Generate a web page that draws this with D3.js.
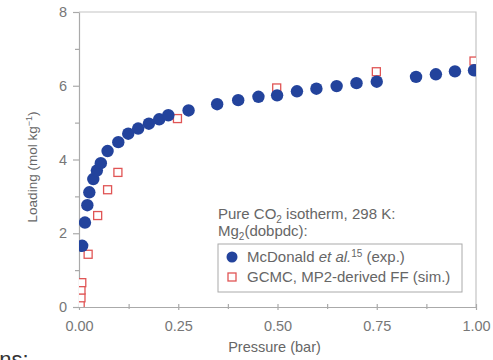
<!DOCTYPE html>
<html>
<head>
<meta charset="utf-8">
<script src="https://cdn.jsdelivr.net/npm/d3@7"></script>
<style>
  body { margin: 0; background: #fff; }
  text { font-family: "Liberation Sans", Arial, sans-serif; fill: #666; }
</style>
</head>
<body>
<svg width="493" height="360"></svg>
<script>
// experimental isotherm (McDonald et al.)
var expPressure = [0.008, 0.015, 0.021, 0.026, 0.036, 0.045, 0.055, 0.072, 0.099, 0.124,
                   0.149, 0.176, 0.202, 0.225, 0.276, 0.348, 0.401, 0.452, 0.499, 0.549,
                   0.598, 0.649, 0.699, 0.750, 0.849, 0.899, 0.947, 0.995];
var expLoading  = [1.66, 2.29, 2.76, 3.11, 3.47, 3.70, 3.90, 4.23, 4.47, 4.70,
                   4.84, 4.97, 5.09, 5.20, 5.33, 5.50, 5.61, 5.70, 5.74, 5.85,
                   5.92, 5.99, 6.07, 6.11, 6.24, 6.31, 6.39, 6.42];
// GCMC simulation
var simPressure = [0.003, 0.005, 0.005, 0.007, 0.023, 0.047, 0.072, 0.098, 0.248, 0.498, 0.749, 0.995];
var simLoading  = [0.08, 0.25, 0.46, 0.66, 1.43, 2.48, 3.18, 3.65, 5.11, 5.94, 6.38, 6.67];

var xTicks = [0, 0.25, 0.5, 0.75, 1];
var xMinor = [0.125, 0.375, 0.625, 0.875];
var yTicks = [0, 2, 4, 6, 8];
var yMinor = [1, 3, 5, 7];

var svg = d3.select("svg"),
    mLeft = 79, mRight = 476, mTop = 12, mBottom = 307;

var x = d3.scaleLinear().domain([0, 1]).range([mLeft, mRight]);
var y = d3.scaleLinear().domain([0, 8]).range([mBottom, mTop]);

var exp = expPressure.map(function(p, i) { return {x: p, y: expLoading[i]}; });
var sim = simPressure.map(function(p, i) { return {x: p, y: simLoading[i]}; });

svg.append("clipPath").attr("id", "plot")
  .append("rect")
    .attr("x", mLeft).attr("y", mTop)
    .attr("width", mRight - mLeft).attr("height", mBottom - mTop);

// frame top / right
svg.append("path")
    .attr("d", "M" + mLeft + "," + mTop + "H" + mRight + "V" + mBottom)
    .attr("fill", "none")
    .attr("stroke", "#c4c4c4")
    .attr("stroke-width", 1.2);

// x axis
var xAxis = svg.append("g")
    .attr("class", "xax")
    .attr("transform", "translate(0," + mBottom + ")")
    .call(d3.axisBottom(x).tickValues(xTicks).tickFormat(d3.format(".2f")).tickSize(3).tickSizeOuter(0));
var xMin = svg.append("g")
    .attr("class", "xax")
    .attr("transform", "translate(0," + mBottom + ")")
    .call(d3.axisBottom(x).tickValues(xMinor).tickFormat("").tickSize(2).tickSizeOuter(0));
xMin.select(".domain").remove();

// y axis
var yAxis = svg.append("g")
    .attr("transform", "translate(" + mLeft + ",0)")
    .call(d3.axisLeft(y).tickValues(yTicks).tickSize(6).tickSizeOuter(0));
svg.append("g")
    .attr("transform", "translate(" + mLeft + ",0)")
    .call(d3.axisLeft(y).tickValues(yMinor).tickFormat("").tickSize(4).tickSizeOuter(0))
    .select(".domain").remove();

svg.selectAll(".domain").attr("stroke", "#aaa").attr("stroke-width", 1.2);
svg.selectAll(".tick line").attr("stroke", "#aaa").attr("stroke-width", 1.2);
svg.selectAll(".xax .tick line").attr("y1", -3);
xAxis.selectAll("text").attr("y", 14).attr("dy", "0.71em")
    .style("font-size", "14.5px").style("fill", "#777").attr("font-family", null);
yAxis.selectAll("text").attr("x", -12)
    .style("font-size", "14.5px").style("fill", "#777").attr("font-family", null);

// axis titles
svg.append("text")
    .attr("x", (mLeft + mRight) / 2 - 3)
    .attr("y", 352)
    .attr("text-anchor", "middle")
    .style("font-size", "14.5px")
    .text("Pressure (bar)");

var yl = svg.append("text")
    .attr("transform", "translate(37,167) rotate(-90)")
    .attr("text-anchor", "middle")
    .style("font-size", "13.5px");
yl.append("tspan").text("Loading (mol kg");
yl.append("tspan").attr("baseline-shift", "super").style("font-size", "9px").text("\u22121");
yl.append("tspan").text(")");

// data
var marks = svg.append("g").attr("clip-path", "url(#plot)");

marks.selectAll(".sim")
  .data(sim)
  .enter().append("rect")
    .attr("class", "sim")
    .attr("x", function(d) { return x(d.x) - 4; })
    .attr("y", function(d) { return y(d.y) - 4; })
    .attr("width", 8)
    .attr("height", 8)
    .attr("fill", "#fff")
    .attr("stroke", "#e05555")
    .attr("stroke-width", 1.3);

marks.selectAll(".exp")
  .data(exp)
  .enter().append("circle")
    .attr("class", "exp")
    .attr("cx", function(d) { return x(d.x); })
    .attr("cy", function(d) { return y(d.y); })
    .attr("r", 6.2)
    .attr("fill", "#23439c");

// legend
var lg = svg.append("g").style("font-size", "15px");
var t1 = lg.append("text").attr("x", 218).attr("y", 219);
t1.append("tspan").text("Pure CO");
t1.append("tspan").attr("dy", 4).style("font-size", "10px").text("2");
t1.append("tspan").attr("dy", -4).text(" isotherm, 298 K:");
var t2 = lg.append("text").attr("x", 218).attr("y", 236);
t2.append("tspan").text("Mg");
t2.append("tspan").attr("dy", 4).style("font-size", "10px").text("2");
t2.append("tspan").attr("dy", -4).text("(dobpdc):");

lg.append("rect")
    .attr("x", 218).attr("y", 244)
    .attr("width", 244).attr("height", 48)
    .attr("fill", "#fff")
    .attr("stroke", "#aaa")
    .attr("stroke-width", 1);

lg.append("circle").attr("cx", 232).attr("cy", 257).attr("r", 5.5).attr("fill", "#23439c");
lg.append("rect").attr("x", 228).attr("y", 273).attr("width", 8).attr("height", 8)
    .attr("fill", "#fff").attr("stroke", "#e05555").attr("stroke-width", 1.3);

var e1 = lg.append("text").attr("x", 247).attr("y", 262);
e1.append("tspan").text("McDonald ");
e1.append("tspan").style("font-style", "italic").text("et al.");
e1.append("tspan").attr("dy", -5).style("font-size", "10px").text("15");
e1.append("tspan").attr("dy", 5).text(" (exp.)");
lg.append("text").attr("x", 247).attr("y", 282).text("GCMC, MP2-derived FF (sim.)");

// cropped caption fragment from the page below
svg.append("text")
    .attr("x", -13).attr("y", 367)
    .style("font-size", "22px")
    .style("fill", "#333")
    .text("ons:");
</script>
</body>
</html>
